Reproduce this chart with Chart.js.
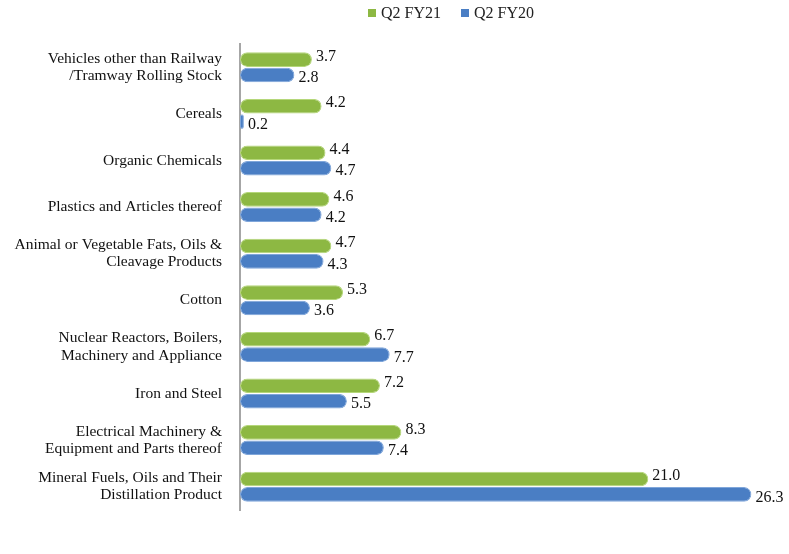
<!DOCTYPE html>
<html>
<head>
<meta charset="utf-8">
<script src="https://cdn.jsdelivr.net/npm/chart.js@4"></script>
<style>
  html, body { margin: 0; padding: 0; background: #fff; }
  #wrap { position: relative; width: 789px; height: 554px; }
  .legend { position: absolute; top: 4px; left: 368px; font: 16px "Liberation Serif", serif; color: #222; display: flex; gap: 20px; }
  .legend span.sw { display: inline-block; width: 8px; height: 8px; margin-right: 5px; vertical-align: 1px; }
</style>
</head>
<body>
<div id="wrap">
  <div class="legend">
    <div><span class="sw" style="background:#8DB843"></span>Q2 FY21</div>
    <div><span class="sw" style="background:#4A7EC4"></span>Q2 FY20</div>
  </div>
  <canvas id="c" width="789" height="554"></canvas>
</div>
<script>
const categories = [
  ['Vehicles other than Railway', '/Tramway Rolling Stock'],
  'Cereals',
  'Organic Chemicals',
  'Plastics and Articles thereof',
  ['Animal or Vegetable Fats, Oils &', 'Cleavage Products'],
  'Cotton',
  ['Nuclear Reactors, Boilers,', 'Machinery and Appliance'],
  'Iron and Steel',
  ['Electrical Machinery &', 'Equipment and Parts thereof'],
  ['Mineral Fuels, Oils and Their', 'Distillation Product']
];
const fy21 = [3.7, 4.2, 4.4, 4.6, 4.7, 5.3, 6.7, 7.2, 8.3, 21.0];
const fy20 = [2.8, 0.2, 4.7, 4.2, 4.3, 3.6, 7.7, 5.5, 7.4, 26.3];

// value labels at the end of each bar
const valueLabels = {
  id: 'valueLabels',
  afterDatasetsDraw(chart) {
    const ctx = chart.ctx;
    ctx.save();
    ctx.font = '16px "Liberation Serif", serif';
    ctx.fillStyle = '#111';
    ctx.textBaseline = 'middle';
    chart.data.datasets.forEach((ds, i) => {
      chart.getDatasetMeta(i).data.forEach((bar, j) => {
        const dy = i === 0 ? -3 : 3;
        ctx.fillText(ds.data[j].toFixed(1), bar.x + 4, bar.y + dy);
      });
    });
    ctx.restore();
  }
};

new Chart(document.getElementById('c'), {
  type: 'bar',
  data: {
    labels: categories,
    datasets: [
      { label: 'Q2 FY21', data: fy21, backgroundColor: '#8DB843', borderColor: '#B5D77A', borderWidth: 1, borderRadius: 7, borderSkipped: false },
      { label: 'Q2 FY20', data: fy20, backgroundColor: '#4A7EC4', borderColor: '#7FA6DA', borderWidth: 1, borderRadius: 7, borderSkipped: false }
    ]
  },
  options: {
    indexAxis: 'y',
    responsive: false,
    animation: false,
    layout: { padding: { top: 44, bottom: 44, left: 0, right: 24 } },
    datasets: { bar: { barPercentage: 0.95, categoryPercentage: 0.66 } },
    plugins: { legend: { display: false }, tooltip: { enabled: false } },
    scales: {
      x: { display: false, min: 0, max: 27 },
      y: {
        afterFit(s) { s.width = 240; },
        grid: { display: false },
        border: { display: true, color: '#A6A6A6', width: 2 },
        ticks: { color: '#111', padding: 10, font: { family: '"Liberation Serif", serif', size: 15.5, lineHeight: 1.1 } }
      }
    }
  },
  plugins: [valueLabels]
});
</script>
</body>
</html>
